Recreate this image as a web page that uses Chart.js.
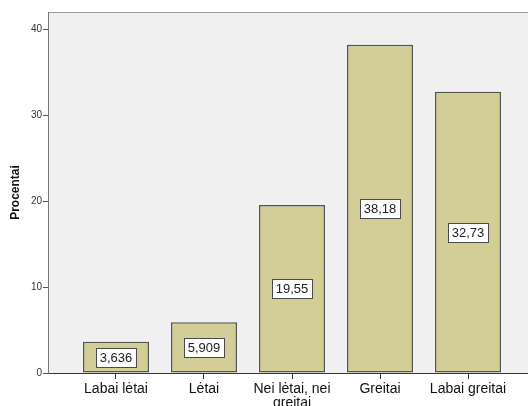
<!DOCTYPE html>
<html>
<head>
<meta charset="utf-8">
<script src="https://cdn.jsdelivr.net/npm/chart.js@4"></script>
<style>
  html, body { margin: 0; padding: 0; background: #fff; overflow: hidden; }
  canvas { display: block; }
</style>
</head>
<body>
<canvas id="percentChart" width="540" height="406"></canvas>
<script>
const categories = ["Labai lėtai", "Lėtai", ["Nei lėtai, nei", "greitai"], "Greitai", "Labai greitai"];
const percents = [3.636, 5.909, 19.55, 38.18, 32.73];
const valueLabels = ["3,636", "5,909", "19,55", "38,18", "32,73"];
const yTicks = [0, 10, 20, 30, 40];

// grey plot background with a thin frame on top
const plotFrame = {
  id: "plotFrame",
  beforeDraw(chart) {
    const a = chart.chartArea, c = chart.ctx;
    c.save();
    c.fillStyle = "#f0f0f0";
    c.fillRect(a.left, a.top, a.right - a.left, a.bottom - a.top);
    c.strokeStyle = "#9a9a9a";
    c.lineWidth = 1;
    c.beginPath();
    c.moveTo(a.left, a.top + 0.5);
    c.lineTo(a.right, a.top + 0.5);
    c.stroke();
    c.restore();
  }
};

// boxed value labels in the middle of each bar
const boxLabels = {
  id: "boxLabels",
  afterDatasetsDraw(chart) {
    const c = chart.ctx;
    const meta = chart.getDatasetMeta(0);
    c.save();
    c.font = "13px 'Liberation Sans', Arial, sans-serif";
    c.textAlign = "center";
    c.textBaseline = "middle";
    meta.data.forEach((bar, i) => {
      const txt = valueLabels[i];
      const x = bar.x, y = (bar.y + bar.base) / 2;
      const w = Math.round(c.measureText(txt).width) + 7, h = 19;
      const bx = Math.round(x - w / 2) + 0.5, by = Math.round(y - h / 2) + 0.5;
      c.fillStyle = "#ffffff";
      c.fillRect(bx, by, w, h);
      c.strokeStyle = "#4a4a4a";
      c.lineWidth = 1;
      c.strokeRect(bx, by, w, h);
      c.fillStyle = "#222";
      c.fillText(txt, x, y + 1);
    });
    c.restore();
  }
};

new Chart(document.getElementById("percentChart"), {
  type: "bar",
  data: {
    datasets: [{
      data: percents.map((v, i) => ({ x: i, y: v })),
      backgroundColor: "#d3ce98",
      borderColor: "#55554f",
      borderWidth: 1.5,
      borderSkipped: false,
      barPercentage: 0.75,
      categoryPercentage: 1
    }]
  },
  options: {
    responsive: false,
    animation: false,
    layout: { padding: { top: 12, right: 4, left: 0, bottom: 0 } },
    plugins: { legend: { display: false }, tooltip: { enabled: false } },
    scales: {
      x: {
        type: "linear",
        offset: false,
        min: -0.7727,
        max: 4.7727,
        afterBuildTicks(scale) {
          scale.ticks = categories.map((_, i) => ({ value: i }));
        },
        afterFit(scale) { scale.height = 33; },
        grid: { drawOnChartArea: false, offset: false, tickLength: 6, color: "#333", tickWidth: 1 },
        border: { color: "#333", width: 1 },
        ticks: {
          autoSkip: false,
          maxRotation: 0,
          padding: 3,
          color: "#111",
          font: { family: "'Liberation Sans', Arial, sans-serif", size: 14, lineHeight: 1.0 },
          callback: (v) => categories[v]
        }
      },
      y: {
        min: 0,
        max: 42,
        afterBuildTicks(scale) {
          scale.ticks = yTicks.map(v => ({ value: v }));
        },
        afterFit(scale) { scale.width = 48; },
        grid: { drawOnChartArea: false, tickLength: 5, color: "#555", tickWidth: 1 },
        border: { color: "#777", width: 1 },
        ticks: {
          padding: 1,
          color: "#333",
          font: { family: "'Liberation Sans', Arial, sans-serif", size: 10 }
        },
        title: {
          display: true,
          text: "Procentai",
          color: "#111",
          padding: { top: 8, bottom: 0 },
          font: { family: "'Liberation Sans', Arial, sans-serif", size: 12, weight: "bold" }
        }
      }
    }
  },
  plugins: [plotFrame, boxLabels]
});
</script>
</body>
</html>
